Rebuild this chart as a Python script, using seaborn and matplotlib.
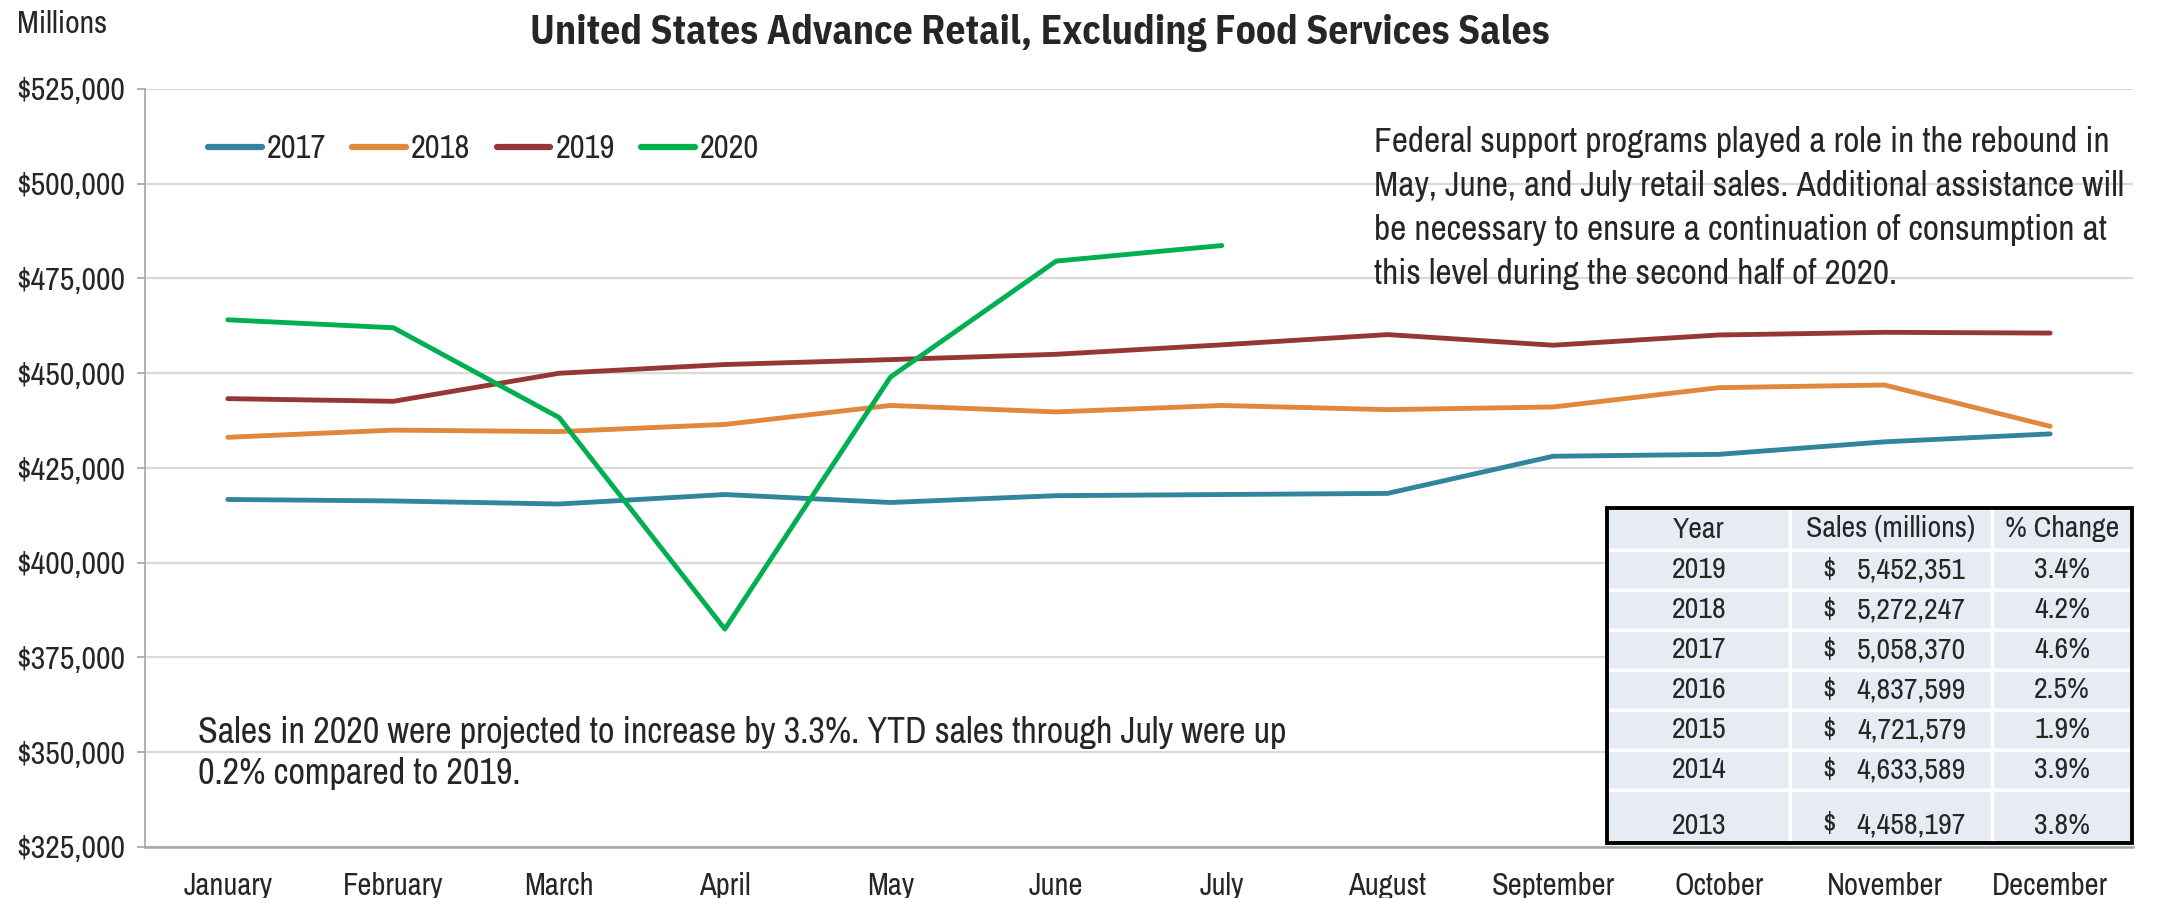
import numpy as np
import pandas as pd
import matplotlib
matplotlib.use("Agg")
import matplotlib.pyplot as plt
import seaborn as sns
from matplotlib.patches import Rectangle

months = ["January", "February", "March", "April", "May", "June", "July",
          "August", "September", "October", "November", "December"]

sales_2017 = [416700, 416300, 415500, 418000, 415900, 417700, 418000, 418300,
              428100, 428600, 431900, 434000]
sales_2018 = [433100, 435000, 434600, 436500, 441500, 439800, 441500, 440400,
              441100, 446200, 446900, 436000]
sales_2019 = [443300, 442600, 450000, 452300, 453600, 455000, 457500, 460200,
              457400, 460100, 460800, 460600]
sales_2020 = [464100, 462000, 438300, 382500, 449000, 479600, 483700]

table_years = ["2019", "2018", "2017", "2016", "2015", "2014", "2013"]
table_sales = ["5,452,351", "5,272,247", "5,058,370", "4,837,599",
               "4,721,579", "4,633,589", "4,458,197"]
table_change = ["3.4%", "4.2%", "4.6%", "2.5%", "1.9%", "3.9%", "3.8%"]

colors = {"2017": "#31859C", "2018": "#E0883C", "2019": "#953735", "2020": "#00B050"}

rows = []
for year, vals in [("2017", sales_2017), ("2018", sales_2018),
                   ("2019", sales_2019), ("2020", sales_2020)]:
    for i, v in enumerate(vals):
        rows.append({"month": i, "year": year, "sales": v})
df = pd.DataFrame(rows)

sns.set_style("white")
plt.rcParams['font.family'] = ['Liberation Sans Narrow', 'Archivo Narrow', 'Roboto Condensed',
                               'PT Sans Narrow', 'Liberation Sans', 'DejaVu Sans']

W, H = 2177, 898
fig = plt.figure(figsize=(W / 100, H / 100), dpi=100)
ax = fig.add_axes([145 / W, 1 - 847 / H, (2133 - 145) / W, (847 - 89) / H])

sns.lineplot(data=df, x="month", y="sales", hue="year", palette=colors,
             linewidth=3.5, sort=False, ax=ax)

ax.set_xlim(-0.5, 11.5)
ax.set_ylim(325000, 525000)
ax.set_yticks(np.arange(325000, 525001, 25000))
ax.set_yticklabels([f"${v:,.0f}" for v in np.arange(325000, 525001, 25000)], fontsize=23)
ax.set_xticks(range(12))
ax.set_xticklabels(months, fontsize=22)
ax.set_xticks(np.arange(-0.5, 12, 1), minor=True)
ax.tick_params(axis="x", which="major", length=0, pad=18)
ax.tick_params(axis="x", which="minor", length=7, width=1.2, color="#A6A6A6", direction="out")
ax.tick_params(axis="y", length=6, width=1.2, color="#A6A6A6", pad=8, direction="out", left=True)
ax.grid(axis="y", color="#D9D9D9", linewidth=1.6)
ax.set_axisbelow(True)
ax.set_xlabel("")
ax.set_ylabel("")
for s in ["top", "right"]:
    ax.spines[s].set_visible(False)
ax.spines["left"].set_color("#A6A6A6")
ax.spines["left"].set_linewidth(1.2)
ax.spines["bottom"].set_color("#A6A6A6")
ax.spines["bottom"].set_linewidth(1.8)

leg = ax.legend(loc="center left", bbox_to_anchor=(208 / W, 1 - 149 / H),
                bbox_transform=fig.transFigure, ncol=4, frameon=False, fontsize=23.5,
                borderpad=0, borderaxespad=0, handlelength=1.65, handletextpad=0.15,
                columnspacing=0.8)
for line in leg.get_lines():
    line.set_linewidth(4.5)
    line.set_solid_capstyle("round")

fig.text(1040 / W, 1 - 44 / H, "United States Advance Retail, Excluding Food Services Sales",
         ha="center", va="baseline", fontsize=28.5, fontweight="bold",
         family=['IBM Plex Sans Condensed', 'Open Sans Condensed', 'Roboto Condensed', 'DejaVu Sans'])
fig.text(17 / W, 1 - 24 / H, "Millions", ha="left", va="center", fontsize=23)

fig.text(1374 / W, 1 - 208 / H,
         "Federal support programs played a role in the rebound in\n"
         "May, June, and July retail sales. Additional assistance will\n"
         "be necessary to ensure a continuation of consumption at\n"
         "this level during the second half of 2020.",
         ha="left", va="center", fontsize=25.5, linespacing=1.47)
fig.text(198 / W, 1 - 753 / H,
         "Sales in 2020 were projected to increase by 3.3%. YTD sales through July were up\n"
         "0.2% compared to 2019.",
         ha="left", va="center", fontsize=26, linespacing=1.27)

# summary table
tx0, tx1 = 1607, 2132
col_edges = [1607, 1790, 1992, 2132]
row_edges = [508, 550, 590, 630, 670, 710, 750, 790, 843]
cell_bg = "#E7ECF4"
for r in range(len(row_edges) - 1):
    for c in range(3):
        x0, x1 = col_edges[c], col_edges[c + 1]
        y0, y1 = row_edges[r], row_edges[r + 1]
        fig.patches.append(Rectangle((x0 / W, 1 - y1 / H), (x1 - x0) / W, (y1 - y0) / H,
                                     transform=fig.transFigure, facecolor=cell_bg,
                                     edgecolor="white", linewidth=2.5, zorder=5))
fig.patches.append(Rectangle((tx0 / W, 1 - 843 / H), (tx1 - tx0) / W, (843 - 508) / H,
                             transform=fig.transFigure, facecolor="none",
                             edgecolor="black", linewidth=2.8, zorder=6))

def cell_text(x, y, s, ha):
    fig.text(x / W, 1 - y / H, s, ha=ha, va="center", fontsize=21.5, zorder=7)

cell_text(1699, 529, "Year", "center")
cell_text(1891, 529, "Sales (millions)", "center")
cell_text(2062, 529, "% Change", "center")
for i in range(len(table_years)):
    yc = (row_edges[i + 1] + row_edges[i + 2]) / 2
    if i == len(table_years) - 1:
        yc = 825
    cell_text(1699, yc, table_years[i], "center")
    cell_text(1822, yc, "$", "left")
    cell_text(1966, yc, table_sales[i], "right")
    cell_text(2062, yc, table_change[i], "center")

fig.savefig("out.png", dpi=100)
